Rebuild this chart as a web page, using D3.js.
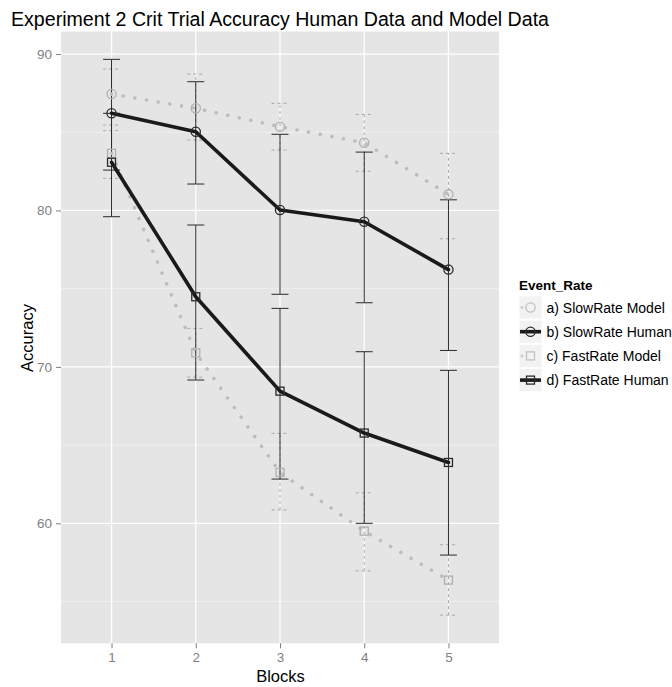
<!DOCTYPE html>
<html>
<head>
<meta charset="utf-8">
<script src="https://cdn.jsdelivr.net/npm/d3@7"></script>
<style>
  body { margin: 0; background: #fff; }
  text { font-family: "Liberation Sans", Arial, sans-serif; }
</style>
</head>
<body>
<svg id="chart" width="672" height="687"></svg>
<script>
// Blocks on the x axis
const blocks = [1, 2, 3, 4, 5];

// Series names (legend order)
const seriesNames = ["a) SlowRate Model", "b) SlowRate Human", "c) FastRate Model", "d) FastRate Human"];

// Mean accuracy per block
const slowModel = [87.44, 86.53, 85.35, 84.33, 81.03];
const slowHuman = [86.21, 85.03, 80.03, 79.28, 76.22];
const fastModel = [83.65, 70.90, 63.25, 59.50, 56.37];
const fastHuman = [83.08, 74.48, 68.45, 65.77, 63.89];

// Error bar limits per block
const slowModelLow  = [85.46, 84.50, 83.86, 82.50, 78.19];
const slowModelHigh = [89.04, 88.72, 86.85, 86.14, 83.65];
const slowHumanLow  = [82.58, 81.69, 74.64, 74.10, 71.05];
const slowHumanHigh = [89.66, 88.23, 84.87, 83.73, 80.68];
const fastModelLow  = [82.05, 69.34, 60.86, 56.96, 54.13];
const fastModelHigh = [85.10, 72.46, 65.75, 61.95, 58.63];
const fastHumanLow  = [79.60, 69.16, 62.83, 60.00, 57.97];
const fastHumanHigh = [86.21, 79.07, 73.74, 70.97, 69.78];

// Axis ticks
const yTicks = [60, 70, 80, 90];
const yMinor = [55, 65, 75, 85];

const series = [
  { name: seriesNames[0], mean: slowModel, lo: slowModelLow, hi: slowModelHigh, shape: "circle", human: false },
  { name: seriesNames[1], mean: slowHuman, lo: slowHumanLow, hi: slowHumanHigh, shape: "circle", human: true },
  { name: seriesNames[2], mean: fastModel, lo: fastModelLow, hi: fastModelHigh, shape: "square", human: false },
  { name: seriesNames[3], mean: fastHuman, lo: fastHumanLow, hi: fastHumanHigh, shape: "square", human: true }
];

const svg = d3.select("#chart");
const panel = { left: 61, right: 499, top: 31.5, bottom: 643.3 };

const x = d3.scaleLinear().domain([0.4, 5.6]).range([panel.left, panel.right]);
const y = d3.scaleLinear().domain([52.33, 91.44]).range([panel.bottom, panel.top]);

// Title
svg.append("text")
  .attr("x", 11).attr("y", 26)
  .attr("font-size", 19.6).attr("fill", "#000")
  .text("Experiment 2 Crit Trial Accuracy Human Data and Model Data");

// Panel background and grid
svg.append("rect")
  .attr("x", panel.left).attr("y", panel.top)
  .attr("width", panel.right - panel.left).attr("height", panel.bottom - panel.top)
  .attr("fill", "#e5e5e5");

const grid = svg.append("g");
grid.selectAll("line.minor").data(yMinor).join("line")
  .attr("x1", panel.left).attr("x2", panel.right)
  .attr("y1", d => y(d)).attr("y2", d => y(d))
  .attr("stroke", "#f2f2f2").attr("stroke-width", 0.8);
grid.selectAll("line.majory").data(yTicks).join("line")
  .attr("x1", panel.left).attr("x2", panel.right)
  .attr("y1", d => y(d)).attr("y2", d => y(d))
  .attr("stroke", "#fff").attr("stroke-width", 1.3);
grid.selectAll("line.majorx").data(blocks).join("line")
  .attr("y1", panel.top).attr("y2", panel.bottom)
  .attr("x1", d => x(d)).attr("x2", d => x(d))
  .attr("stroke", "#fff").attr("stroke-width", 1.3);

// Axes
const xAxis = svg.append("g")
  .attr("transform", `translate(0,${panel.bottom})`)
  .call(d3.axisBottom(x).tickValues(blocks).tickSize(5).tickPadding(4).tickFormat(d3.format("d")));
const yAxis = svg.append("g")
  .attr("transform", `translate(${panel.left},0)`)
  .call(d3.axisLeft(y).tickValues(yTicks).tickSize(5).tickPadding(4));
[xAxis, yAxis].forEach(g => {
  g.select(".domain").remove();
  g.selectAll(".tick line").attr("stroke", "#7f7f7f").attr("stroke-width", 1);
  g.selectAll(".tick text").attr("fill", "#7f7f7f").attr("font-size", 13.5)
    .attr("font-family", "Liberation Sans, Arial, sans-serif");
});

svg.append("text")
  .attr("x", 280.5).attr("y", 681.5).attr("text-anchor", "middle")
  .attr("font-size", 16.5).attr("fill", "#000").text("Blocks");
svg.append("text")
  .attr("transform", "translate(33,338) rotate(-90)").attr("text-anchor", "middle")
  .attr("font-size", 16.5).attr("fill", "#000").text("Accuracy");

const humanColor = "#1a1a1a";
const modelColor = "#bdbdbd";
const capHalf = 8.5;

// Error bars
const eb = svg.append("g");
series.forEach(s => {
  const g = eb.append("g")
    .attr("stroke", s.human ? "#2a2a2a" : "#a8a8a8")
    .attr("stroke-width", 1)
    .attr("stroke-dasharray", s.human ? null : "3,3")
    .attr("fill", "none");
  blocks.forEach((b, i) => {
    const cx = x(b);
    g.append("line").attr("x1", cx).attr("x2", cx).attr("y1", y(s.lo[i])).attr("y2", y(s.hi[i]));
    g.append("line").attr("x1", cx - capHalf).attr("x2", cx + capHalf).attr("y1", y(s.lo[i])).attr("y2", y(s.lo[i]));
    g.append("line").attr("x1", cx - capHalf).attr("x2", cx + capHalf).attr("y1", y(s.hi[i])).attr("y2", y(s.hi[i]));
  });
});

// Lines
const line = d3.line().x((d, i) => x(blocks[i])).y(d => y(d));
series.forEach(s => {
  const p = svg.append("path").datum(s.mean)
    .attr("d", line).attr("fill", "none")
    .attr("stroke-linecap", "round").attr("stroke-linejoin", "round");
  if (s.human) {
    p.attr("stroke", humanColor).attr("stroke-width", 3.6);
  } else {
    p.attr("stroke", modelColor).attr("stroke-width", 3.6).attr("stroke-dasharray", "0.01,11.8");
  }
});

// Points
function drawShape(g, shape, cx, cy, color) {
  if (shape === "circle") {
    g.append("circle").attr("cx", cx).attr("cy", cy).attr("r", 4.6)
      .attr("fill", "none").attr("stroke", color).attr("stroke-width", 1.3);
  } else {
    g.append("rect").attr("x", cx - 4).attr("y", cy - 4).attr("width", 8).attr("height", 8)
      .attr("fill", "none").attr("stroke", color).attr("stroke-width", 1.3);
  }
}
series.forEach(s => {
  const g = svg.append("g");
  s.mean.forEach((v, i) => drawShape(g, s.shape, x(blocks[i]), y(v), s.human ? "#2a2a2a" : "#b0b0b0"));
});

// Legend
const legend = svg.append("g");
legend.append("text")
  .attr("x", 519).attr("y", 290)
  .attr("font-size", 13.5).attr("font-weight", "bold").attr("fill", "#000")
  .text("Event_Rate");
series.forEach((s, i) => {
  const cy = 307.5 + i * 24.2;
  const g = legend.append("g");
  g.append("rect").attr("x", 519).attr("y", cy - 11.5).attr("width", 23).attr("height", 23)
    .attr("fill", "#f2f2f2").attr("stroke", "#fff").attr("stroke-width", 0.8);
  if (s.human) {
    g.append("line").attr("x1", 520).attr("x2", 541).attr("y1", cy).attr("y2", cy)
      .attr("stroke", humanColor).attr("stroke-width", 3.6);
  } else {
    g.append("line").attr("x1", 522).attr("x2", 539).attr("y1", cy).attr("y2", cy)
      .attr("stroke", "#d0d0d0").attr("stroke-width", 3.2)
      .attr("stroke-linecap", "round").attr("stroke-dasharray", "0.01,17");
  }
  drawShape(g, s.shape, 530.5, cy, s.human ? "#2a2a2a" : "#c0c0c0");
  g.append("text").attr("x", 546.5).attr("y", cy + 5)
    .attr("font-size", 14).attr("fill", "#000").text(s.name);
});
</script>
</body>
</html>
